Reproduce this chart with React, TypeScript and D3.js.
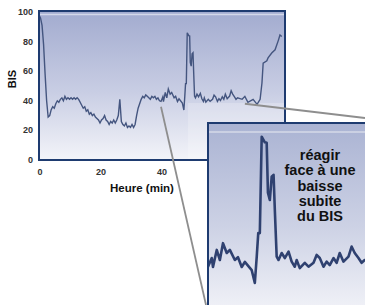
import React from 'react';
import * as d3 from 'd3';

// BIS trace, minutes vs index value
const minutes = [
  0, 0.5, 1, 1.5, 2, 2.5, 3, 3.5, 4, 4.5, 5, 5.5, 6, 6.5, 7, 7.5, 8, 8.5, 9, 9.5,
  10, 10.5, 11, 11.5, 12, 12.5, 13, 13.5, 14, 14.5, 15, 15.5, 16, 16.5, 17, 17.5, 18, 18.5, 19, 19.5,
  20, 20.5, 21, 21.5, 22, 22.5, 23, 23.5, 24, 24.5, 25, 25.5, 26, 26.5, 27, 27.5, 28, 28.5, 29, 29.5,
  30, 30.5, 31, 31.5, 32, 32.5, 33, 33.5, 34, 34.5, 35, 35.5, 36, 36.5, 37, 37.5, 38, 38.5, 39, 39.5,
  40, 40.6, 40.8, 41.4, 41.9, 42.4, 43, 43.5, 44.3, 44.8, 45.4, 45.9, 47, 47.5, 47.8, 48.05, 48.3,
  48.6, 49.1, 49.4, 49.6, 49.9, 50.2, 50.5, 50.7, 51, 51.3, 51.8, 52.3, 52.9, 53.4, 53.9, 54.2, 54.7,
  55.5, 56.1, 56.9, 57.4, 57.9, 58.5, 59, 59.5, 60.1, 60.6, 61.1, 61.7, 62.5, 63, 63.5, 64.1, 64.6,
  65.1, 66.6, 67.5, 68.5, 70.2, 71.5, 72.5, 73.1, 73.5, 74.7, 75.1, 76.3, 77.4, 78.5, 79, 79.6,
];
const bis = [
  98, 96, 91, 78, 58, 40, 29, 30, 34, 36, 35, 38, 40, 39, 41, 42, 40, 43, 41, 42,
  41, 42, 41, 42, 41, 42, 41, 39, 37, 35, 36, 33, 34, 31, 32, 30, 31, 29, 28, 27,
  25, 27, 28, 30, 27, 26, 24, 26, 25, 27, 25, 27, 30, 41, 26, 24, 23, 25, 22, 23,
  22, 24, 22, 24, 30, 35, 38, 41, 43, 42, 44, 43, 42, 41, 43, 42, 43, 41, 42, 40,
  39.6, 42.7, 39.5, 45.6, 42, 48, 44.5, 45.6, 42, 43, 39.5, 41.3, 38.4, 33.8, 43, 51.6, 51.6,
  86, 84, 83.8, 66, 63.4, 71.7, 72.4, 60, 43.2, 42, 44.5, 42.7, 45, 41.4, 39.6, 42, 39.1,
  41, 39.6, 41, 43.8, 42.7, 39.6, 41.4, 40.2, 42.7, 41, 44.5, 41.4, 43.2, 46.8, 44.5, 42.7, 41,
  42, 41, 43, 39, 41, 37.6, 41, 52, 65.5, 67, 69, 72.3, 74.5, 81, 84.5, 83.4,
];

const yTicks = [0, 20, 40, 60, 80, 100];
const xTicks = [0, 20, 40];
const noteLines = ['réagir', 'face à une', 'baisse', 'subite', 'du BIS'];

const FONT = '"Liberation Sans", Arial, sans-serif';
const NAVY = '#1e3b70';

export default function App() {
  const points = minutes.map((m, i) => [m, bis[i]] as [number, number]);

  // main chart
  const x = d3.scaleLinear().domain([0, 80]).range([39, 283]);
  const y = d3.scaleLinear().domain([0, 100]).range([160, 12]);
  const mainLine = d3.line<[number, number]>().x(d => x(d[0])).y(d => y(d[1]))(points) || '';

  // zoomed inset (about 2x)
  const ix = d3.scaleLinear().domain([40, 67.5]).range([208, 379.7]);
  const iy = d3.scaleLinear().domain([42, 86]).range([260, 136.7]);
  const insetPts = points.filter(d => d[0] >= 39 && d[0] <= 69);
  const insetLine = d3.line<[number, number]>().x(d => ix(d[0])).y(d => iy(d[1]))(insetPts) || '';

  return (
    <svg width={365} height={305} style={{ position: 'absolute', left: 0, top: 0, background: '#fff' }}>
      <defs>
        <linearGradient id="bg-main" x1="0" y1="0" x2="0" y2="1">
          <stop offset="0%" stopColor="#a2abcf" />
          <stop offset="55%" stopColor="#c9cee4" />
          <stop offset="100%" stopColor="#f3f4f9" />
        </linearGradient>
        <linearGradient id="bg-inset" x1="0" y1="0" x2="0" y2="1">
          <stop offset="0%" stopColor="#aab3d3" />
          <stop offset="55%" stopColor="#cdd2e5" />
          <stop offset="100%" stopColor="#f2f3f8" />
        </linearGradient>
        <clipPath id="clip-main">
          <rect x={39} y={11} width={246} height={149} />
        </clipPath>
        <clipPath id="clip-inset">
          <rect x={208} y={123} width={170} height={190} />
        </clipPath>
      </defs>

      {/* main plot */}
      <rect x={39} y={11} width={246} height={149} fill="url(#bg-main)" />
      <rect x={188} y={103} width={97} height={57} fill="#fff" opacity={0.22} />
      <line x1={40} x2={284} y1={14.5} y2={14.5} stroke="#d3d8e9" strokeWidth={1.5} />
      <path d={mainLine} fill="none" stroke="#44557f" strokeWidth={1.4} clipPath="url(#clip-main)" />
      <rect x={39} y={11} width={246} height={149} fill="none" stroke={NAVY} strokeWidth={2} />

      {yTicks.map(t => (
        <text key={t} x={33} y={y(t) + 3} textAnchor="end" fontFamily={FONT} fontWeight="bold" fontSize={9} fill="#333">
          {t}
        </text>
      ))}
      {xTicks.map(t => (
        <text key={t} x={x(t) + 1} y={174.5} textAnchor="middle" fontFamily={FONT} fontWeight="bold" fontSize={9} fill="#333">
          {t}
        </text>
      ))}
      <text
        transform="translate(16,79) rotate(-90)"
        textAnchor="middle"
        fontFamily={FONT}
        fontWeight="bold"
        fontSize={11}
        fill="#111"
      >
        BIS
      </text>
      <text x={142} y={192} textAnchor="middle" fontFamily={FONT} fontWeight="bold" fontSize={11.5} fill="#111">
        Heure (min)
      </text>

      {/* magnifier lines */}
      <line x1={x(40)} y1={y(36)} x2={206} y2={305} stroke="#8e8e8e" strokeWidth={1.8} />
      <line x1={x(67.5)} y1={y(38)} x2={365} y2={118} stroke="#8e8e8e" strokeWidth={1.8} />

      {/* inset */}
      <rect x={208} y={123} width={170} height={190} fill="url(#bg-inset)" />
      <line x1={209} x2={365} y1={132} y2={132} stroke="#d6dae9" strokeWidth={1.5} />
      <path d={insetLine} fill="none" stroke="#2f4170" strokeWidth={2.6} strokeLinejoin="round" clipPath="url(#clip-inset)" />
      <rect x={208} y={123} width={170} height={190} fill="none" stroke={NAVY} strokeWidth={2} />
      {noteLines.map((s, i) => (
        <text key={s} x={320} y={160 + i * 15.3} textAnchor="middle" fontFamily={FONT} fontWeight="bold" fontSize={14.5} fill="#111">
          {s}
        </text>
      ))}
    </svg>
  );
}
